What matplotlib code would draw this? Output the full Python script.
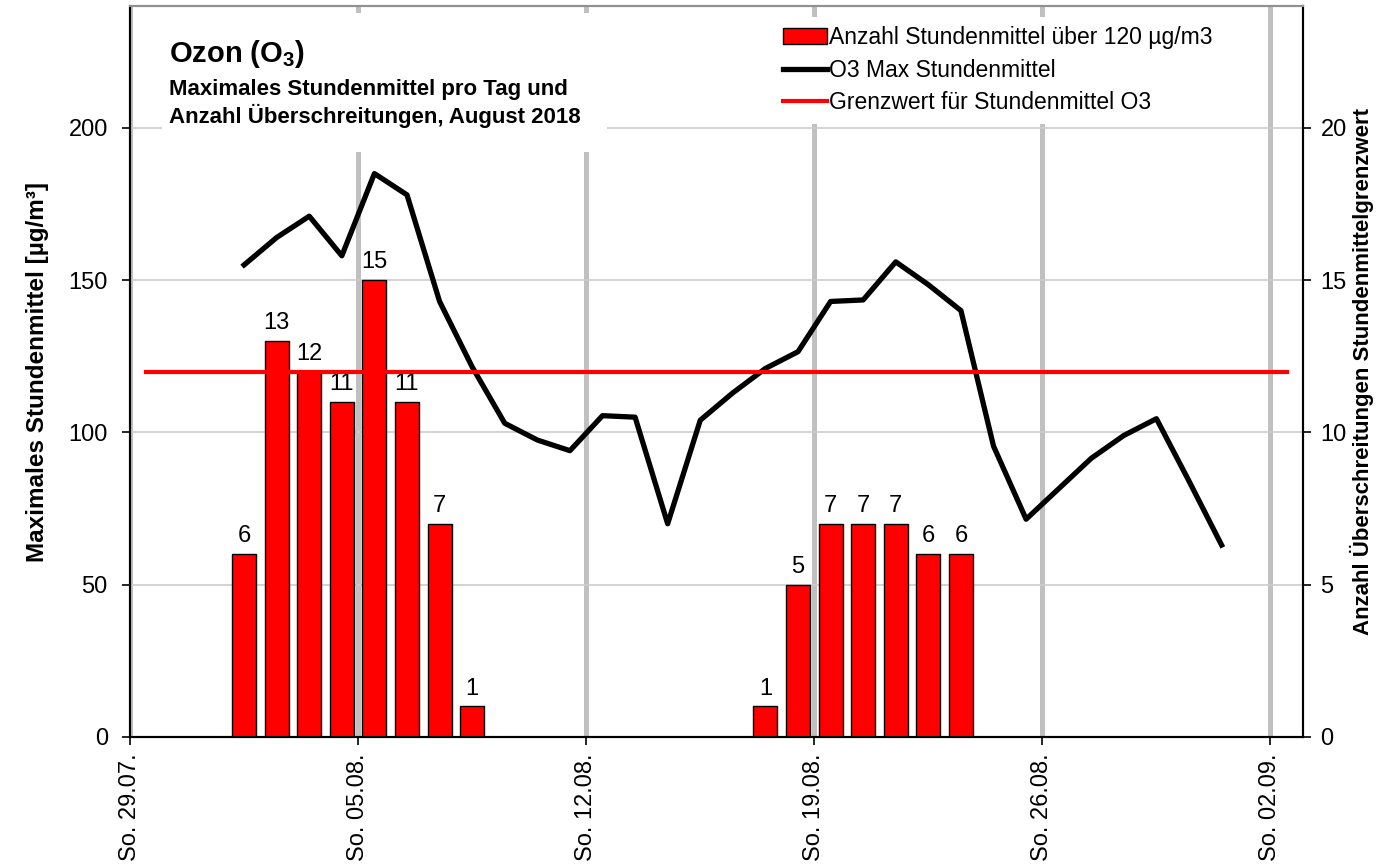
"""Ozon (O3) - Maximales Stundenmittel pro Tag, August 2018."""
import datetime as dt

import matplotlib.pyplot as plt
import matplotlib.dates as mdates
from matplotlib.patches import Rectangle

plt.rcParams['font.family'] = ['Liberation Sans', 'DejaVu Sans']
plt.rcParams['mathtext.fontset'] = 'custom'
plt.rcParams['mathtext.rm'] = 'Liberation Sans:bold'
plt.rcParams['mathtext.bf'] = 'Liberation Sans:bold'

# daily values, August 2018 (plotted at midday)
days = [dt.datetime(2018, 8, d, 12) for d in range(1, 32)]
o3_max = [
    155, 164, 171, 158, 185, 178, 143, 121.5, 103, 97.5, 94, 105.5, 105,
    70, 104, 113, 121, 126.5, 143, 143.5, 156, 148.5, 140, 95.5, 71.5,
    81.5, 91.5, 99, 104.5, 84, 63,
]
n_exceed = [
    6, 13, 12, 11, 15, 11, 7, 1, 0, 0, 0, 0, 0, 0, 0, 0,
    1, 5, 7, 7, 7, 6, 6, 0, 0, 0, 0, 0, 0, 0, 0,
]
limit_days = [dt.datetime(2018, 7, 29, 12) + dt.timedelta(days=i) for i in range(36)]
limit_value = 120
week_ticks = [dt.datetime(2018, 7, 29) + dt.timedelta(weeks=i) for i in range(6)]
weekday_de = ['Mo.', 'Di.', 'Mi.', 'Do.', 'Fr.', 'Sa.', 'So.']

x_days = mdates.date2num(days)
x_limit = mdates.date2num(limit_days)
x_ticks = mdates.date2num(week_ticks)

fig = plt.figure(figsize=(13.76, 8.68), dpi=100)
ax1 = fig.add_subplot(111)
fig.subplots_adjust(left=0.0945, right=0.947, bottom=0.151, top=0.993)
ax2 = ax1.twinx()

# ax1: left scale + grid (drawn at the back)
ax1.set_xlim(mdates.date2num(dt.datetime(2018, 7, 29)), mdates.date2num(dt.datetime(2018, 9, 3)))
ax1.set_ylim(0, 240)
ax1.set_yticks([0, 50, 100, 150, 200])
ax1.set_xticks(x_ticks)
ax1.set_xticklabels([
    f'{weekday_de[d.weekday()]} {d:%d.%m.}' for d in week_ticks
], rotation=90)
ax1.grid(axis='x', color='#c0c0c0', linewidth=3.6)
ax1.grid(axis='y', color='#cccccc', linewidth=1.2)
ax1.set_axisbelow(True)
ax1.tick_params(axis='both', direction='out', length=6, width=1.2, labelsize=17,
                colors='black')
ax1.tick_params(axis='y', pad=10)
ax1.tick_params(axis='x', pad=6)
ax1.set_ylabel('Maximales Stundenmittel [µg/m³]', fontsize=17.5, fontweight='bold',
               labelpad=14)

# ax2: right scale, bars and lines
ax2.set_ylim(0, 24)
ax2.set_yticks([0, 5, 10, 15, 20])
ax2.tick_params(axis='y', direction='out', length=6, width=1.2, labelsize=17, pad=6.5)
ax2.set_ylabel('Anzahl Überschreitungen Stundenmittelgrenzwert', fontsize=16,
               fontweight='bold')
ax2.yaxis.set_label_coords(1.0395, 0.5)

bar_x = [x for x, n in zip(x_days, n_exceed) if n > 0]
bar_n = [n for n in n_exceed if n > 0]
bars = ax2.bar(bar_x, bar_n, width=0.74, color='#ff0000', edgecolor='black',
               linewidth=1.0, zorder=2, label='Anzahl Stundenmittel über 120 µg/m3')
ax2.bar_label(bars, labels=[str(n) for n in bar_n], padding=5, fontsize=17)

line_o3, = ax2.plot(x_days, o3_max, color='black', linewidth=3.8, zorder=3,
                    transform=ax1.transData, label='O3 Max Stundenmittel')
line_lim, = ax2.plot(x_limit, [limit_value] * len(x_limit), color='#ff0000',
                     linewidth=3.0, zorder=3, transform=ax1.transData,
                     label='Grenzwert für Stundenmittel O3')

for ax in (ax1, ax2):
    ax.spines['left'].set_color('black')
    ax.spines['bottom'].set_color('black')
    ax.spines['right'].set_color('black')
    ax.spines['top'].set_color('#909090')
    for s in ax.spines.values():
        s.set_linewidth(1.5)

# title block
ax2.add_patch(Rectangle((0.027, 0.80), 0.38, 0.19, transform=ax2.transAxes,
                        facecolor='white', edgecolor='none', zorder=4))
ax2.text(0.033, 0.923, r'Ozon (O$_\mathbf{3}$)', transform=ax2.transAxes,
         fontsize=21, fontweight='bold', va='baseline', zorder=5)
ax2.text(0.033, 0.879, 'Maximales Stundenmittel pro Tag und', transform=ax2.transAxes,
         fontsize=16, fontweight='bold', va='baseline', zorder=5)
ax2.text(0.033, 0.840, 'Anzahl Überschreitungen, August 2018', transform=ax2.transAxes,
         fontsize=16, fontweight='bold', va='baseline', zorder=5)

leg = ax2.legend(handles=[bars, line_o3, line_lim],
                 loc='upper left', bbox_to_anchor=(0.549, 0.985), borderaxespad=0,
                 fontsize=16.5, frameon=True, fancybox=False, framealpha=1,
                 handlelength=1.9, handletextpad=0.1, labelspacing=0.42,
                 borderpad=0.4)
leg.get_frame().set_edgecolor('none')
leg.get_frame().set_facecolor('white')
leg.set_zorder(6)

plt.savefig('out.png', dpi=100)
